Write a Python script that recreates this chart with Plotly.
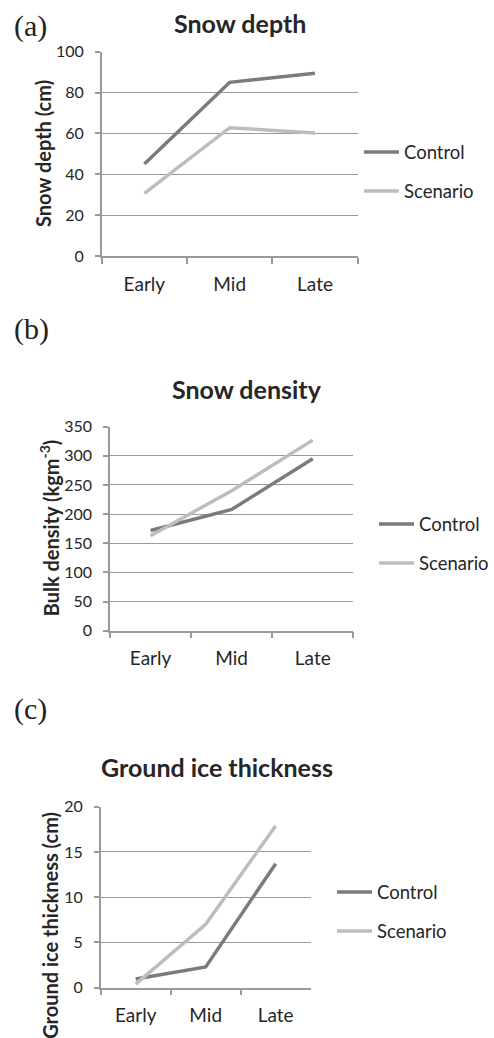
import plotly.graph_objects as go

W, H = 494, 1038

categories = ["Early", "Mid", "Late"]

depth_control = [45, 85, 89.4]
depth_scenario = [30.7, 62.8, 60.2]

density_control = [172, 208, 295]
density_scenario = [163, 240, 327]

ice_control = [0.96, 2.3, 13.7]
ice_scenario = [0.4, 7.0, 17.9]

depth_ticks = [0, 20, 40, 60, 80, 100]
density_ticks = [0, 50, 100, 150, 200, 250, 300, 350]
ice_ticks = [0, 5, 10, 15, 20]

C_CTRL = "#7b7b7b"
C_SCEN = "#bdbdbd"
GRID = "#9a9a9a"
TXT = "#262626"
FONT = "Lato"

def px_x(p):
    return p / W

def px_y(p):
    return 1 - p / H

fig = go.Figure()

panels = [
    ("x", "y", "legend", depth_control, depth_scenario, depth_ticks, (101.7, 357.7), (51.7, 256)),
    ("x2", "y2", "legend2", density_control, density_scenario, density_ticks, (110, 353.3), (426.7, 630.7)),
    ("x3", "y3", "legend3", ice_control, ice_scenario, ice_ticks, (100.7, 310.7), (806.7, 987.7)),
]

for i, (xa, ya, lg, ctrl, scen, ticks, xd, yd) in enumerate(panels):
    fig.add_trace(go.Scatter(x=categories, y=ctrl, mode="lines", name="Control",
                             line=dict(color=C_CTRL, width=3.5), xaxis=xa, yaxis=ya,
                             legend=lg, legendgroup=f"c{i}", showlegend=True))
    fig.add_trace(go.Scatter(x=categories, y=scen, mode="lines", name="Scenario",
                             line=dict(color=C_SCEN, width=3.5), xaxis=xa, yaxis=ya,
                             legend=lg, legendgroup=f"s{i}", showlegend=True))

layout = dict(
    template="none",
    width=W, height=H,
    margin=dict(l=0, r=0, t=0, b=0, pad=0, autoexpand=False),
    paper_bgcolor="white", plot_bgcolor="white",
    font=dict(family=FONT, color=TXT),
)

for i, (xa, ya, lg, ctrl, scen, ticks, xd, yd) in enumerate(panels):
    sfx = "" if i == 0 else str(i + 1)
    layout["xaxis" + sfx] = dict(
        domain=[px_x(xd[0]), px_x(xd[1])], anchor=ya,
        type="category", range=[-0.5, 2.5], automargin=False,
        showgrid=False, showline=True, linecolor=GRID, linewidth=1.5,
        ticks="outside", tickson="boundaries", ticklen=6, tickcolor=GRID, tickwidth=1.5,
        tickfont=dict(size=19, color=TXT, family=FONT),
        ticklabelstandoff=10,
        fixedrange=True,
    )
    layout["yaxis" + sfx] = dict(
        domain=[px_y(yd[1]), px_y(yd[0])], anchor=xa,
        range=[ticks[0], ticks[-1]], tickvals=ticks, automargin=False,
        showgrid=True, gridcolor=GRID, gridwidth=1,
        zeroline=False, showline=True, linecolor=GRID, linewidth=1.5,
        ticks="outside", ticklen=5, tickcolor=GRID, tickwidth=1.5,
        tickfont=dict(size=16, color=TXT, family=FONT),
        ticklabelstandoff=8,
        fixedrange=True,
    )

leg_pos = [(359, 172), (374, 544), (332, 912)]
for i, (lx, ly) in enumerate(leg_pos):
    key = "legend" if i == 0 else f"legend{i + 1}"
    layout[key] = dict(
        x=px_x(lx), y=px_y(ly), xanchor="left", yanchor="middle",
        font=dict(size=18.5, family=FONT, color=TXT),
        bgcolor="rgba(0,0,0,0)", borderwidth=0,
        tracegroupgap=12, itemwidth=35,
    )

fig.update_layout(**layout)

titles = [("Snow depth", 240, 23), ("Snow density", 246.7, 389), ("Ground ice thickness", 216.7, 766.7)]
for t, cx, cy in titles:
    fig.add_annotation(text=f"<b>{t}</b>", x=px_x(cx), y=px_y(cy), xref="paper", yref="paper",
                       xanchor="center", yanchor="middle", showarrow=False,
                       font=dict(size=25, family=FONT, color=TXT))

labels = [("(a)", 26), ("(b)", 329), ("(c)", 708.7)]
for t, cy in labels:
    fig.add_annotation(text=t, x=px_x(12), y=px_y(cy), xref="paper", yref="paper",
                       xanchor="left", yanchor="middle", showarrow=False,
                       font=dict(size=30, family="Liberation Serif", color="#222222"))

# y-axis titles (rotated)
ytitles = [("<b>Snow depth (cm)</b>", 43, 154, "middle"),
           ("<b>Bulk density (kgm<sup>-3</sup>)</b>", 49.3, 528, "middle"),
           ("<b>Ground ice thickness (cm)</b>", 49.3, 810, "top")]
for t, cx, cy, ya in ytitles:
    fig.add_annotation(text=t, x=px_x(cx), y=px_y(cy),
                       xref="paper", yref="paper", xanchor="center", yanchor=ya,
                       textangle=-90, showarrow=False,
                       font=dict(size=20, family=FONT, color=TXT))

fig.write_html("out.html", config={"displayModeBar": False},
               post_script="document.body.style.margin='0';document.body.style.overflow='hidden';")
